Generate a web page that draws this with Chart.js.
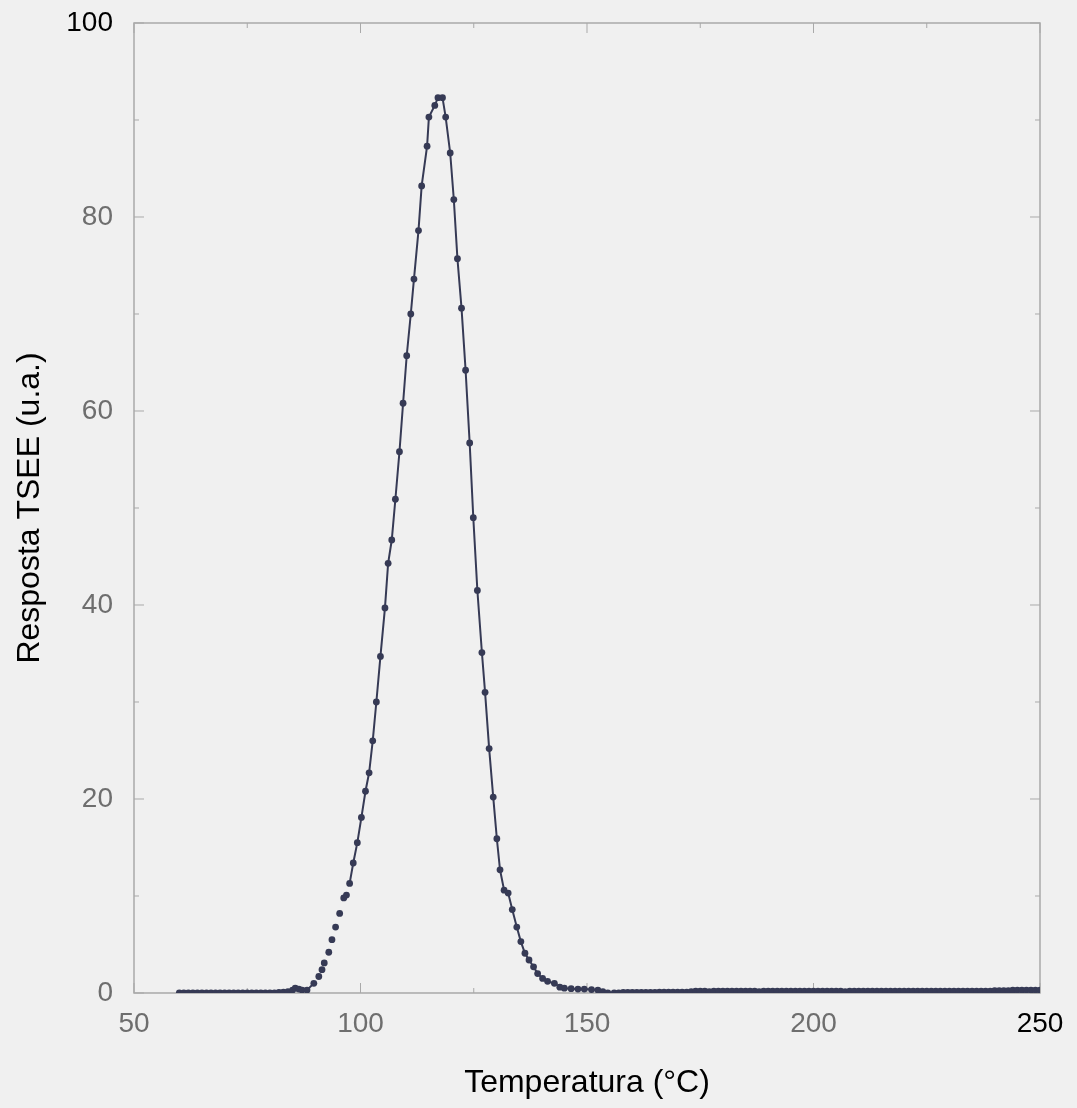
<!DOCTYPE html>
<html>
<head>
<meta charset="utf-8">
<script src="https://cdn.jsdelivr.net/npm/chart.js@4"></script>
<style>
  html, body { margin: 0; padding: 0; background: #f0f0f0; }
  #wrap { width: 1077px; height: 1108px; }
</style>
</head>
<body>
<div id="wrap"><canvas id="chart" width="1077" height="1108"></canvas></div>
<script>
// temperature (°C) and TSEE response (a.u.)
const tempC = [
  60, 61, 62, 63, 64, 65, 66, 67, 68, 69, 70, 71, 72, 73, 74, 75, 76, 77, 78, 79,
  80, 81, 82, 83, 84, 85, 85.6, 86.4, 87.1, 88.2, 89.7, 90.8, 91.5, 92.0, 93.0, 93.7,
  94.5, 95.4, 96.3, 96.9, 97.6, 98.4, 99.3, 100.2, 101.1, 101.9, 102.7, 103.5, 104.4,
  105.4, 106.1, 106.9, 107.7, 108.6, 109.4, 110.2, 111.1, 111.8, 112.8, 113.5, 114.7,
  115.1, 116.4, 117.1, 118.1, 118.8, 119.8, 120.6, 121.4, 122.3, 123.2, 124.1, 124.9,
  125.8, 126.8, 127.5, 128.4, 129.3, 130.1, 130.8, 131.7, 132.6, 133.5, 134.5, 135.4,
  136.3, 137.2, 138.2, 139.1, 140.2, 141.3, 142.8, 144.0, 145.0, 146.5, 148.0, 149.4,
  151.0, 152.4, 153.5, 154.6, 156, 157, 158, 159, 160, 161, 162, 163, 164, 165, 166,
  167, 168, 169, 170, 171, 172, 173, 174, 175, 176, 177, 178, 179, 180, 181, 182, 183,
  184, 185, 186, 187, 188, 189, 190, 191, 192, 193, 194, 195, 196, 197, 198, 199, 200,
  201, 202, 203, 204, 205, 206, 207, 208, 209, 210, 211, 212, 213, 214, 215, 216, 217,
  218, 219, 220, 221, 222, 223, 224, 225, 226, 227, 228, 229, 230, 231, 232, 233, 234,
  235, 236, 237, 238, 239, 240, 241, 242, 243, 244, 245, 246, 247, 248, 249, 250
];
const tsee = [
  0, 0, 0, 0, 0, 0, 0, 0, 0, 0, 0, 0, 0, 0, 0, 0, 0, 0, 0, 0,
  0, 0, 0.05, 0.1, 0.15, 0.3, 0.5, 0.4, 0.3, 0.3, 1.0, 1.7, 2.4, 3.1, 4.2, 5.5,
  6.8, 8.2, 9.8, 10.1, 11.3, 13.4, 15.5, 18.1, 20.8, 22.7, 26.0, 30.0, 34.7,
  39.7, 44.3, 46.7, 50.9, 55.8, 60.8, 65.7, 70.0, 73.6, 78.6, 83.2, 87.3,
  90.3, 91.5, 92.3, 92.3, 90.3, 86.6, 81.8, 75.7, 70.6, 64.2, 56.7, 49.0,
  41.5, 35.1, 31.0, 25.2, 20.2, 15.9, 12.7, 10.6, 10.3, 8.6, 6.8, 5.3,
  4.1, 3.4, 2.7, 2.0, 1.5, 1.2, 1.0, 0.6, 0.5, 0.45, 0.4, 0.4,
  0.35, 0.3, 0.15, 0, 0, 0, 0.05, 0.05, 0.05, 0.05, 0.05, 0.05, 0.05, 0.05, 0.1,
  0.1, 0.1, 0.1, 0.1, 0.1, 0.1, 0.15, 0.2, 0.2, 0.2, 0.15, 0.2, 0.2, 0.2, 0.2, 0.2, 0.2,
  0.2, 0.2, 0.2, 0.2, 0.15, 0.2, 0.2, 0.2, 0.2, 0.2, 0.2, 0.2, 0.2, 0.2, 0.2, 0.2, 0.2,
  0.2, 0.2, 0.2, 0.2, 0.2, 0.2, 0.15, 0.2, 0.2, 0.2, 0.2, 0.2, 0.2, 0.2, 0.2, 0.2, 0.2,
  0.2, 0.2, 0.2, 0.2, 0.2, 0.2, 0.2, 0.2, 0.2, 0.2, 0.2, 0.2, 0.2, 0.2, 0.2, 0.2, 0.2,
  0.2, 0.2, 0.2, 0.2, 0.2, 0.25, 0.25, 0.25, 0.25, 0.3, 0.3, 0.3, 0.3, 0.3, 0.3, 0.3
];
const xTicks = [50, 100, 150, 200, 250];
const yTicks = [0, 20, 40, 60, 80, 100];

const lineCol = "#363a55";
const boxCol = "#a9a9a9";

// box round the plot + inward major/minor ticks on all four sides
const boxPlugin = {
  id: "box",
  beforeDatasetsDraw(chart) {
    const { ctx, chartArea: a, scales } = chart;
    ctx.save();
    ctx.strokeStyle = boxCol;
    ctx.lineWidth = 1.5;
    ctx.strokeRect(a.left, a.top, a.right - a.left, a.bottom - a.top);
    ctx.lineWidth = 1;
    ctx.beginPath();
    for (let v = 50; v <= 250; v += 25) {
      const px = scales.x.getPixelForValue(v);
      const len = v % 50 === 0 ? 10 : 5;
      ctx.moveTo(px, a.bottom); ctx.lineTo(px, a.bottom - len);
      ctx.moveTo(px, a.top); ctx.lineTo(px, a.top + len);
    }
    for (let v = 0; v <= 100; v += 10) {
      const py = scales.y.getPixelForValue(v);
      const len = v % 20 === 0 ? 10 : 5;
      ctx.moveTo(a.left, py); ctx.lineTo(a.left + len, py);
      ctx.moveTo(a.right, py); ctx.lineTo(a.right - len, py);
    }
    ctx.stroke();
    ctx.restore();
  }
};

const tickFont = { family: "'Liberation Sans', Arial, sans-serif", size: 28 };
const titleFont = { family: "'Liberation Sans', Arial, sans-serif", size: 32 };

new Chart(document.getElementById("chart"), {
  type: "line",
  data: {
    datasets: [{
      data: tempC.map((t, i) => ({ x: t, y: tsee[i] })),
      borderColor: lineCol,
      borderWidth: 2,
      pointRadius: 3.4,
      pointBorderWidth: 0,
      pointBackgroundColor: lineCol,
      tension: 0,
      segment: {
        // the lower left flank shows only dots, no connecting line
        borderColor: (c) => (c.p0.parsed.x >= 89 && c.p1.parsed.x <= 97.7) ? "rgba(0,0,0,0)" : undefined
      }
    }]
  },
  options: {
    responsive: false,
    animation: false,
    layout: { padding: { left: 0, top: 23, right: 37, bottom: 0 } },
    plugins: { legend: { display: false }, tooltip: { enabled: false } },
    scales: {
      x: {
        type: "linear", min: 50, max: 250,
        afterBuildTicks: (s) => { s.ticks = xTicks.map(v => ({ value: v })); },
        afterFit: (s) => { s.height = 115; s.paddingLeft = 0; s.paddingRight = 0; },
        grid: { display: false, drawTicks: false },
        border: { display: false },
        ticks: {
          font: tickFont, padding: 14, maxRotation: 0,
          color: (c) => c.tick.value === 250 ? "#000" : "#6e6e6e"
        },
        title: { display: true, text: "Temperatura (°C)", font: titleFont, color: "#000", padding: { top: 0, bottom: 6 } }
      },
      y: {
        type: "linear", min: 0, max: 100,
        afterBuildTicks: (s) => { s.ticks = yTicks.map(v => ({ value: v })); },
        afterFit: (s) => { s.width = 134; s.paddingTop = 0; s.paddingBottom = 0; },
        grid: { display: false, drawTicks: false },
        border: { display: false },
        ticks: {
          font: tickFont, padding: 21,
          color: (c) => c.tick.value === 100 ? "#000" : "#6e6e6e"
        },
        title: { display: true, text: "Resposta TSEE (u.a.)", font: titleFont, color: "#000", padding: { top: 11, bottom: 0 } }
      }
    }
  },
  plugins: [boxPlugin]
});
</script>
</body>
</html>
